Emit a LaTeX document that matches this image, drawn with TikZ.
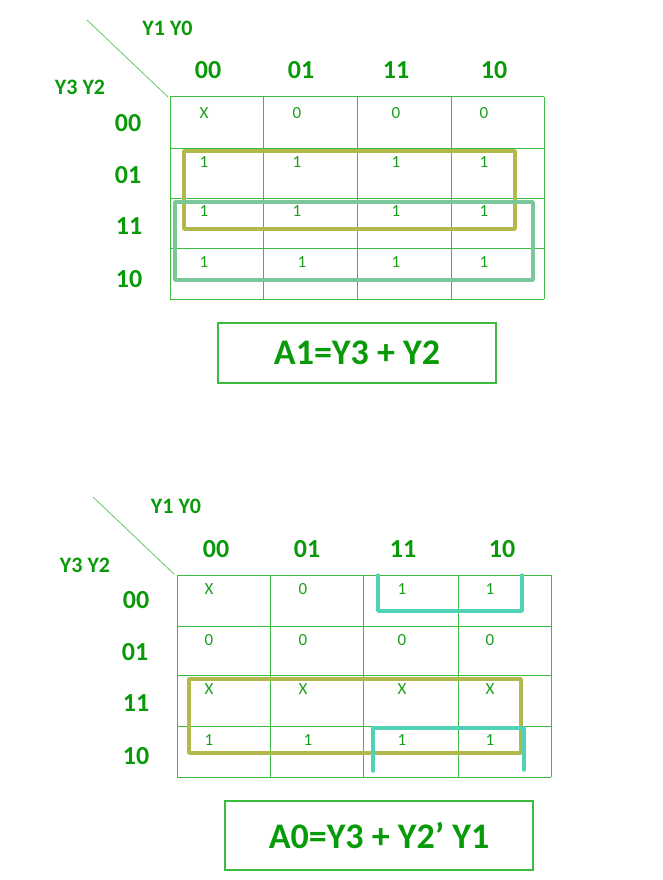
\documentclass[tikz,border=0pt]{standalone}
\usepackage{fontspec}
\setmainfont{Carlito}
\definecolor{gridg}{HTML}{3DBB3D}
\definecolor{txtg}{HTML}{1A9E1A}
\definecolor{hdrg}{HTML}{089A08}
\definecolor{olivebox}{HTML}{B3B84C}
\definecolor{seabox}{HTML}{7CC79A}
\definecolor{tealbox}{HTML}{4FD2B5}
\tikzset{
  gridline/.style={draw=gridg, line width=1pt},
  diag/.style={draw=gridg!80, line width=0.8pt},
  cell/.style={text=txtg, font=\fontsize{17}{17}\selectfont, inner sep=0pt},
  hdr/.style={text=hdrg, font=\bfseries\fontsize{26}{26}\selectfont, inner sep=0pt},
  varlbl/.style={text=hdrg, font=\bfseries\fontsize{22}{22}\selectfont, inner sep=0pt},
  formula/.style={draw=gridg, line width=1.2pt, text=hdrg, font=\bfseries\fontsize{36}{36}\selectfont, inner sep=0pt},
  grp/.style={line width=3.5pt, line join=round, line cap=round},
}
\begin{document}
\begin{tikzpicture}[x=1pt,y=-1pt]
\useasboundingbox (0,0) rectangle (662,880);
% ================= MAP 1 =================
\foreach \x in {170,263,357,451,544} \draw[gridline] (\x,97) -- (\x,299);
\foreach \y in {97,148,198,248,299} \draw[gridline] (170,\y) -- (544,\y);
\coordinate (d1a) at (87,20);
\coordinate (d1b) at (168,97);
\draw[diag] (d1a) -- (d1b);
\node[varlbl] (m1top) at (167.5,28) {Y1 Y0};
\node[varlbl] (m1left) at (80,87) {Y3 Y2};
\node[hdr] (m1c1) at (208,70) {00};
\node[hdr] (m1c2) at (301,70) {01};
\node[hdr] (m1c3) at (396,70) {11};
\node[hdr] (m1c4) at (494,70) {10};
\node[hdr] (m1r1) at (128,123) {00};
\node[hdr] (m1r2) at (128,175) {01};
\node[hdr] (m1r3) at (129,226) {11};
\node[hdr] (m1r4) at (129,279) {10};
% groups
\draw[grp, draw=olivebox] (184,151) rectangle (515,229);
\draw[grp, draw=seabox] (175,202) rectangle (533,280);
% cells
\node[cell] (a11) at (204,113) {X};
\node[cell] (a12) at (297,113) {0};
\node[cell] (a13) at (396,113) {0};
\node[cell] (a14) at (484,113) {0};
\node[cell] (a21) at (204,162) {1};
\node[cell] (a22) at (297,162) {1};
\node[cell] (a23) at (396,162) {1};
\node[cell] (a24) at (484,162) {1};
\node[cell] (a31) at (204,211) {1};
\node[cell] (a32) at (297,211) {1};
\node[cell] (a33) at (396,211) {1};
\node[cell] (a34) at (484,211) {1};
\node[cell] (a41) at (204,262) {1};
\node[cell] (a42) at (302,262) {1};
\node[cell] (a43) at (396,262) {1};
\node[cell] (a44) at (484,262) {1};
\node[formula, minimum width=278pt, minimum height=60pt] (f1) at (357,353) {A1=Y3 + Y2};
% ================= MAP 2 =================
\foreach \x in {177,270,363,458,551} \draw[gridline] (\x,575) -- (\x,777);
\foreach \y in {575,626,675,726,777} \draw[gridline] (177,\y) -- (551,\y);
\coordinate (d2a) at (93,497);
\coordinate (d2b) at (174,574);
\draw[diag] (d2a) -- (d2b);
\node[varlbl] (m2top) at (176,506) {Y1 Y0};
\node[varlbl] (m2left) at (85,565) {Y3 Y2};
\node[hdr] (m2c1) at (216,549) {00};
\node[hdr] (m2c2) at (307,549) {01};
\node[hdr] (m2c3) at (403,549) {11};
\node[hdr] (m2c4) at (502,549) {10};
\node[hdr] (m2r1) at (136,600) {00};
\node[hdr] (m2r2) at (135,652) {01};
\node[hdr] (m2r3) at (136,703) {11};
\node[hdr] (m2r4) at (136,756) {10};
% groups
\draw[grp, draw=olivebox] (189,679) rectangle (521,753);
\draw[grp, draw=tealbox] (378,575) -- (378,611) -- (522,611) -- (522,575);
\draw[grp, draw=tealbox] (373,771) -- (373,728) -- (524,728) -- (524,770);
% cells
\node[cell] (b11) at (209,589) {X};
\node[cell] (b12) at (303,589) {0};
\node[cell] (b13) at (402,589) {1};
\node[cell] (b14) at (490,589) {1};
\node[cell] (b21) at (209,640) {0};
\node[cell] (b22) at (303,640) {0};
\node[cell] (b23) at (402,640) {0};
\node[cell] (b24) at (490,640) {0};
\node[cell] (b31) at (209,689) {X};
\node[cell] (b32) at (303,689) {X};
\node[cell] (b33) at (402,689) {X};
\node[cell] (b34) at (490,689) {X};
\node[cell] (b41) at (209,740) {1};
\node[cell] (b42) at (308,740) {1};
\node[cell] (b43) at (402,740) {1};
\node[cell] (b44) at (490,740) {1};
\node[formula, minimum width=308pt, minimum height=69pt] (f2) at (379,835.5) {A0=Y3 + Y2’ Y1};
\end{tikzpicture}
\end{document}
